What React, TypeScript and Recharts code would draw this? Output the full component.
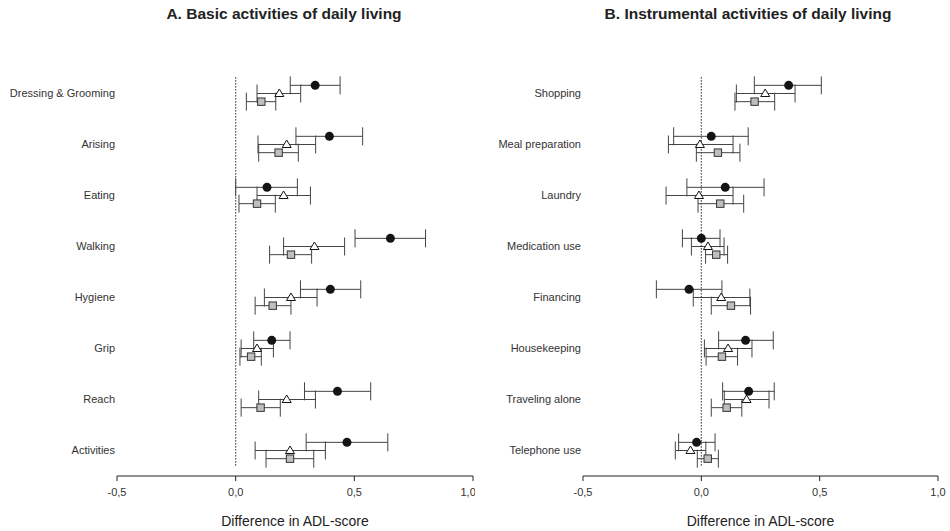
import { ScatterChart, Scatter, XAxis, YAxis, ErrorBar, ReferenceLine } from "recharts";

// A. Basic ADL items, top to bottom
const basicItems = ["Dressing & Grooming", "Arising", "Eating", "Walking", "Hygiene", "Grip", "Reach", "Activities"];
const basicCircle = [0.335, 0.395, 0.132, 0.652, 0.399, 0.152, 0.429, 0.469];
const basicCircleLo = [0.23, 0.254, 0.0, 0.503, 0.273, 0.076, 0.29, 0.297];
const basicCircleHi = [0.44, 0.535, 0.26, 0.8, 0.527, 0.229, 0.569, 0.641];
const basicTriangle = [0.184, 0.215, 0.202, 0.332, 0.233, 0.09, 0.215, 0.229];
const basicTriangleLo = [0.09, 0.094, 0.09, 0.202, 0.121, 0.023, 0.097, 0.082];
const basicTriangleHi = [0.274, 0.337, 0.315, 0.459, 0.343, 0.159, 0.336, 0.378];
const basicSquare = [0.108, 0.181, 0.09, 0.233, 0.156, 0.065, 0.105, 0.229];
const basicSquareLo = [0.045, 0.097, 0.014, 0.143, 0.082, 0.018, 0.023, 0.128];
const basicSquareHi = [0.169, 0.264, 0.167, 0.32, 0.233, 0.108, 0.188, 0.329];

// B. Instrumental ADL items
const instrItems = ["Shopping", "Meal preparation", "Laundry", "Medication use", "Financing", "Housekeeping", "Traveling alone", "Telephone use"];
const instrCircle = [0.369, 0.042, 0.101, 0.0, -0.052, 0.187, 0.2, -0.02];
const instrCircleLo = [0.224, -0.117, -0.061, -0.08, -0.19, 0.073, 0.09, -0.096];
const instrCircleHi = [0.507, 0.198, 0.265, 0.079, 0.087, 0.304, 0.308, 0.058];
const instrTriangle = [0.27, -0.006, -0.01, 0.028, 0.084, 0.113, 0.191, -0.046];
const instrTriangleLo = [0.148, -0.139, -0.149, -0.042, -0.034, 0.013, 0.097, -0.11];
const instrTriangleHi = [0.396, 0.134, 0.134, 0.096, 0.205, 0.214, 0.286, 0.019];
const instrSquare = [0.225, 0.07, 0.08, 0.063, 0.125, 0.087, 0.107, 0.027];
const instrSquareLo = [0.142, -0.021, -0.014, 0.018, 0.042, 0.02, 0.042, -0.017];
const instrSquareHi = [0.31, 0.163, 0.179, 0.111, 0.208, 0.153, 0.171, 0.072];

const xTicks = [-0.5, 0, 0.5, 1.0];
const FONT = "'Liberation Sans', Arial, Helvetica, sans-serif";

// vertical offset of each marker within its row (in row units)
const OFFSETS = { circle: -0.16, triangle: 0, square: 0.16 };

function rows(vals: number[], lo: number[], hi: number[], offset: number) {
  return vals.map((v, i) => ({ x: v, y: i + offset, err: [v - lo[i], hi[i] - v] }));
}

const CircleMark = (p: any) => <circle cx={p.cx} cy={p.cy} r={4.5} fill="#141414" />;
const TriangleMark = (p: any) => (
  <polygon
    points={`${p.cx},${p.cy - 4.5} ${p.cx - 4.5},${p.cy + 3} ${p.cx + 4.5},${p.cy + 3}`}
    fill="#fff"
    stroke="#141414"
    strokeWidth={1}
  />
);
const SquareMark = (p: any) => (
  <rect x={p.cx - 3.7} y={p.cy - 3.7} width={7.4} height={7.4} fill="#bfbfbf" stroke="#333" strokeWidth={1} />
);

const fmt = (v: number) => v.toFixed(1).replace(".", ",");

// single-line category labels (the default tick wraps long names)
const ItemTick = ({ x, y, payload, items }: any) => (
  <text x={x} y={y} dy="0.35em" textAnchor="end" fontSize={11} fill="#333" fontFamily={FONT}>
    {items[payload.value] ?? ""}
  </text>
);

interface PanelProps {
  items: string[];
  circle: ReturnType<typeof rows>;
  triangle: ReturnType<typeof rows>;
  square: ReturnType<typeof rows>;
  yAxisWidth: number;
  marginRight: number;
}

function Panel({ items, circle, triangle, square, yAxisWidth, marginRight }: PanelProps) {
  return (
    <ScatterChart width={475} height={531} margin={{ top: 68, right: marginRight, bottom: 0, left: 0 }}>
      <XAxis
        type="number"
        dataKey="x"
        domain={[-0.5, 1.0]}
        ticks={xTicks}
        tickFormatter={fmt}
        height={55}
        stroke="#222"
        tickSize={5}
        tickMargin={7}
        tick={{ fontSize: 11, fill: "#333", fontFamily: FONT }}
        label={{ value: "Difference in ADL-score", position: "insideBottom", offset: 5, fontSize: 14, fill: "#222", fontFamily: FONT }}
      />
      <YAxis
        type="number"
        dataKey="y"
        domain={[-0.5, 7.5]}
        reversed
        ticks={items.map((_, i) => i)}
        width={yAxisWidth}
        axisLine={false}
        tickLine={false}
        tickSize={0}
        tickMargin={2}
        interval={0}
        tick={<ItemTick items={items} />}
      />
      <ReferenceLine
        segment={[{ x: 0, y: -0.32 }, { x: 0, y: 7.33 }]}
        stroke="#222"
        strokeWidth={1.2}
        strokeDasharray="1.2 1.8"
      />
      <Scatter name="circle" data={circle} shape={CircleMark} isAnimationActive={false}>
        <ErrorBar dataKey="err" direction="x" width={9} stroke="#444" strokeWidth={1} />
      </Scatter>
      <Scatter name="triangle" data={triangle} shape={TriangleMark} isAnimationActive={false}>
        <ErrorBar dataKey="err" direction="x" width={9} stroke="#444" strokeWidth={1} />
      </Scatter>
      <Scatter name="square" data={square} shape={SquareMark} isAnimationActive={false}>
        <ErrorBar dataKey="err" direction="x" width={9} stroke="#444" strokeWidth={1} />
      </Scatter>
    </ScatterChart>
  );
}

const titleStyle = {
  position: "absolute" as const,
  top: 5,
  fontFamily: FONT,
  fontWeight: 700,
  fontSize: 15.5,
  color: "#222",
  transform: "translateX(-50%)",
  whiteSpace: "nowrap" as const,
};

export default function App() {
  return (
    <div style={{ position: "absolute", left: 0, top: 0, width: 950, height: 531, background: "#fff", fontFamily: FONT }}>
      <div style={{ ...titleStyle, left: 284 }}>A. Basic activities of daily living</div>
      <div style={{ ...titleStyle, left: 748 }}>B. Instrumental activities of daily living</div>
      <div style={{ position: "absolute", left: 0, top: 0 }}>
        <Panel
          items={basicItems}
          circle={rows(basicCircle, basicCircleLo, basicCircleHi, OFFSETS.circle)}
          triangle={rows(basicTriangle, basicTriangleLo, basicTriangleHi, OFFSETS.triangle)}
          square={rows(basicSquare, basicSquareLo, basicSquareHi, OFFSETS.square)}
          yAxisWidth={117}
          marginRight={2}
        />
      </div>
      <div style={{ position: "absolute", left: 475, top: 0 }}>
        <Panel
          items={instrItems}
          circle={rows(instrCircle, instrCircleLo, instrCircleHi, OFFSETS.circle)}
          triangle={rows(instrTriangle, instrTriangleLo, instrTriangleHi, OFFSETS.triangle)}
          square={rows(instrSquare, instrSquareLo, instrSquareHi, OFFSETS.square)}
          yAxisWidth={108}
          marginRight={12}
        />
      </div>
    </div>
  );
}
